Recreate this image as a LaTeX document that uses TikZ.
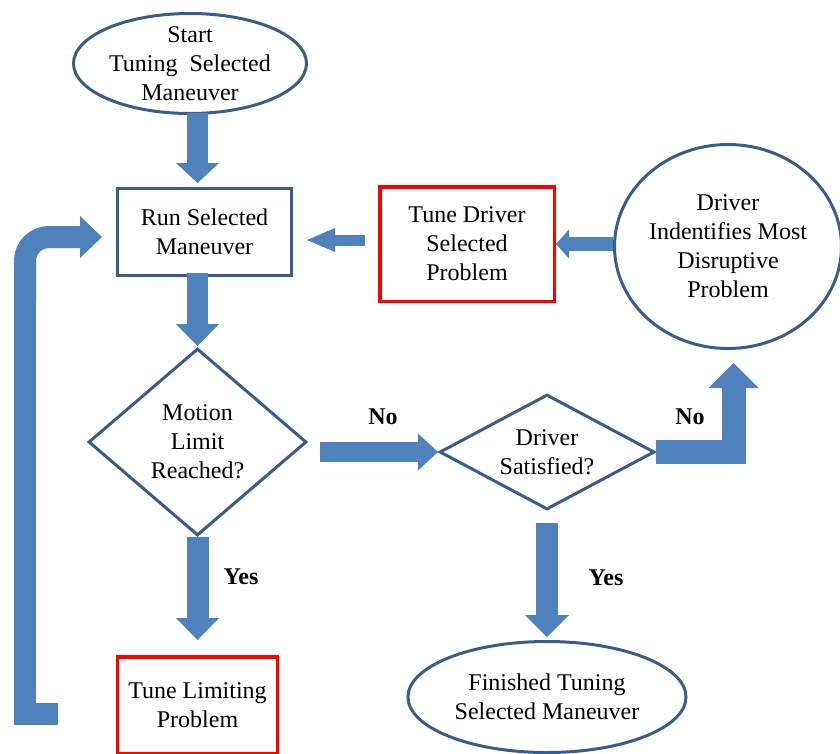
\documentclass[tikz,border=0pt]{standalone}
\usepackage{fontspec}
\setmainfont{Liberation Serif}
\usetikzlibrary{positioning}
\usetikzlibrary{shapes.geometric}
\usetikzlibrary{arrows.meta}

\definecolor{arrowblue}{RGB}{79,129,189}
\definecolor{edgeblue}{RGB}{56,93,138}
\definecolor{tunered}{RGB}{255,0,0}

\begin{document}
\begin{tikzpicture}[x=1pt, y=1pt, on grid,
    every node/.style={font=\fontsize{24}{29}\selectfont, align=center, inner sep=0pt},
    terminal/.style={ellipse, draw=edgeblue, line width=3pt, inner ysep=-12pt},
    process/.style={rectangle, draw=edgeblue, line width=3pt},
    tunebox/.style={rectangle, draw=tunered, line width=3.5pt},
    decision/.style={diamond, draw=edgeblue, line width=3pt},
    answer/.style={font=\fontsize{24}{29}\selectfont\bfseries},
    shaft/.style={draw=arrowblue, line width=#1},
    flow/.style n args={3}{draw=arrowblue, line width=#1, -{Triangle[width=#2, length=#3, line width=0pt]}},
    ]
    \useasboundingbox (0,0) rectangle (840,-753);
    \clip (0,0) rectangle (840,-753);

    \node[process, minimum width=174pt, minimum height=87pt] (run) at (204.5,-232) {Run Selected\\Maneuver};
    \node[terminal, minimum width=233pt, minimum height=100pt, above left=168.5pt and 14.5pt of run] (start) {Start\\Tuning\ \ Selected\\Maneuver};
    \node[decision, aspect=1.16, minimum width=218pt, minimum height=187pt, below left=210pt and 7pt of run] (motion) {Motion\\Limit\\Reached?};
    \node[tunebox, minimum width=160pt, minimum height=96.5pt, below=263pt of motion] (tunelim) {Tune Limiting\\Problem};
    \node[tunebox, minimum width=174.5pt, minimum height=114.5pt, below right=12pt and 262.5pt of run] (tunedrv) {Tune Driver\\Selected\\Problem};
    \node[terminal, minimum width=227pt, minimum height=204pt, below right=2.5pt and 261pt of tunedrv] (driver) {Driver\\Indentifies Most\\Disruptive\\Problem};
    \node[decision, aspect=1.85, minimum width=215pt, minimum height=115pt, below right=10pt and 349.5pt of motion] (satisfied) {Driver\\Satisfied?};
    \node[terminal, minimum width=278pt, minimum height=111pt, below=245pt of satisfied] (finished) {Finished Tuning\\Selected Maneuver};

    % main flow
    \draw[flow={21pt}{43pt}{20pt}, shorten <=-2pt, shorten >=4pt] (start.south -| motion.north) -- (run.north -| motion.north);
    \draw[flow={21pt}{43pt}{22pt}, shorten <=-4pt, shorten >=1pt] (run.south -| motion.north) -- (motion.north);
    \draw[flow={11pt}{24pt}{28pt}] ([xshift=-13pt, yshift=4pt]tunedrv.west) -- ([xshift=14pt, yshift=-8pt]run.east);
    \draw[flow={14pt}{29pt}{13pt}] (driver.west |- tunedrv.east) -- (tunedrv.east);
    \draw[flow={20pt}{37pt}{20pt}, shorten <=12pt] (motion.east |- satisfied.west) -- (satisfied.west);
    \draw[flow={24pt}{50pt}{25pt}] (satisfied.east) -| ([xshift=5.5pt, yshift=-13pt]driver.south);
    \draw[flow={22pt}{43pt}{22pt}, shorten >=15pt] (motion.south) -- (tunelim.north);
    \draw[flow={22pt}{44pt}{22pt}, shorten <=12pt, shorten >=3pt] (satisfied.south) -- (finished.north -| satisfied.south);

    % loop back
    \coordinate (loopfoot) at (58,-714);
    \coordinate (loopbend) at (25,-714);
    \draw[shaft=22pt] (loopfoot) -- (loopbend) -- ++(0,420);
    \draw[flow={22pt}{42pt}{22pt}, rounded corners=24pt] ([yshift=414pt]loopbend) |- ([xshift=-14pt, yshift=-5pt]run.west);

    % answers
    \node[answer, above right=25pt and 75pt of motion.east, anchor=center] (nomotion) {No};
    \node[answer, above right=35pt and 34pt of satisfied.east, anchor=center] (nosatisfied) {No};
    \node[answer, below right=40pt and 43.5pt of motion.south, anchor=center] (yesmotion) {Yes};
    \node[answer, below right=67pt and 59pt of satisfied.south, anchor=center] (yessatisfied) {Yes};
\end{tikzpicture}
\end{document}
